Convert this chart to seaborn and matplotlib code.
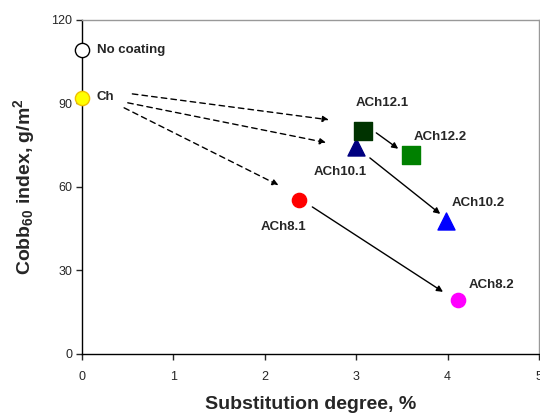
import matplotlib
matplotlib.use("Agg")
import matplotlib.pyplot as plt
import seaborn as sns
import pandas as pd

# samples: substitution degree (%) and Cobb60 index (g/m2)
names = ['No coating', 'Ch', 'ACh8.1', 'ACh8.2', 'ACh10.1', 'ACh10.2', 'ACh12.1', 'ACh12.2']
subst = [0.0, 0.0, 2.37, 4.11, 3.00, 3.98, 3.07, 3.60]
cobb = [109.0, 92.0, 55.3, 19.2, 74.5, 47.9, 80.1, 71.3]

# label anchor (left edge, middle) in data units
label_x = [0.16, 0.16, 1.96, 4.23, 2.54, 4.04, 2.99, 3.63]
label_y = [109.2, 92.3, 45.6, 24.8, 65.4, 54.3, 90.2, 78.0]

# arrows (from -> to), data units
dashed_from = [(0.55, 93.4), (0.50, 90.2), (0.46, 88.4)]
dashed_to = [(2.70, 84.1), (2.67, 75.9), (2.15, 60.6)]
solid_from = [(3.22, 79.4), (3.15, 70.4), (2.52, 52.8)]
solid_to = [(3.46, 73.7), (3.92, 50.3), (3.95, 22.3)]

face = {'No coating': 'white', 'Ch': '#FFFF00', 'ACh8.1': '#FF0000', 'ACh8.2': '#FF00FF',
        'ACh10.1': '#000080', 'ACh10.2': '#0000FF', 'ACh12.1': '#003300', 'ACh12.2': '#008000'}
edge = {'No coating': 'black', 'Ch': '#F0C000', 'ACh8.1': '#FF0000', 'ACh8.2': '#FF00FF',
        'ACh10.1': '#000080', 'ACh10.2': '#0000FF', 'ACh12.1': '#003300', 'ACh12.2': '#008000'}
marker = {'No coating': 'o', 'Ch': 'o', 'ACh8.1': 'o', 'ACh8.2': 'o',
          'ACh10.1': '^', 'ACh10.2': '^', 'ACh12.1': 's', 'ACh12.2': 's'}
msize = {'o': 105, '^': 150, 's': 150}

df = pd.DataFrame({'name': names, 'x': subst, 'y': cobb})

sns.set_style("ticks")
plt.rcParams['font.family'] = ['Liberation Sans', 'DejaVu Sans']
plt.rcParams['mathtext.default'] = 'regular'

fig = plt.figure(figsize=(5.4, 4.13), dpi=100)
ax = fig.add_axes([0.152, 0.143, 0.846, 0.809])

for _, row in df.iterrows():
    m = marker[row['name']]
    sns.scatterplot(x=[row['x']], y=[row['y']], ax=ax, marker=m, s=msize[m],
                    color=face[row['name']], edgecolor=edge[row['name']],
                    linewidth=1.0, clip_on=False, zorder=5, legend=False)

for n, lx, ly in zip(names, label_x, label_y):
    ax.text(lx, ly, n, fontsize=9.5, fontweight='bold', ha='left', va='center')

for a, b in zip(dashed_from, dashed_to):
    ax.annotate('', xy=b, xytext=a,
                arrowprops=dict(arrowstyle='-|>', color='black', lw=1.0,
                                linestyle=(0, (4, 3)), mutation_scale=9,
                                shrinkA=0, shrinkB=0))
for a, b in zip(solid_from, solid_to):
    ax.annotate('', xy=b, xytext=a,
                arrowprops=dict(arrowstyle='-|>', color='black', lw=1.0,
                                mutation_scale=9, shrinkA=0, shrinkB=0))

ax.set_xlim(0, 5)
ax.set_ylim(0, 120)
ax.set_xticks([0, 1, 2, 3, 4, 5])
ax.set_yticks([0, 30, 60, 90, 120])
ax.tick_params(labelsize=9, length=4, width=1, direction='out')
ax.tick_params(axis='x', pad=8)
ax.tick_params(axis='y', pad=3)
ax.set_xlabel('Substitution degree, %', fontsize=14, fontweight='bold', labelpad=10)
ax.set_ylabel('Cobb$_{60}$ index, g/m$^{2}$', fontsize=14, fontweight='bold', labelpad=10)

for s in ['left', 'bottom']:
    ax.spines[s].set_color('black')
    ax.spines[s].set_linewidth(1.0)
for s in ['top', 'right']:
    ax.spines[s].set_visible(True)
    ax.spines[s].set_color('#999999')
    ax.spines[s].set_linewidth(1.0)

fig.savefig('out.png', dpi=100)
